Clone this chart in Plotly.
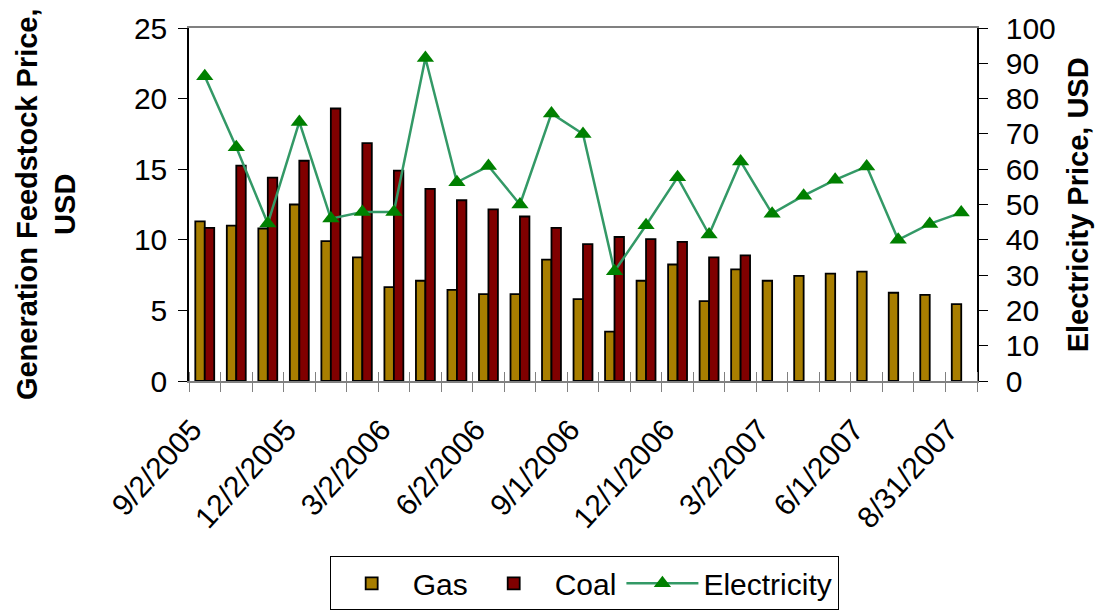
import plotly.graph_objects as go

# Monthly feedstock and power prices, Sep 2005 - Aug 2007
gas = [11.3, 11.0, 10.8, 12.5, 9.9, 8.75, 6.65, 7.1, 6.45, 6.15, 6.15, 8.6, 5.8,
       3.5, 7.1, 8.25, 5.65, 7.9, 7.1, 7.45, 7.6, 7.75, 6.25, 6.1, 5.45]
coal = [10.85, 15.25, 14.4, 15.6, 19.3, 16.85, 14.9, 13.6, 12.8, 12.15, 11.65, 10.85, 9.7,
        10.2, 10.05, 9.85, 8.75, 8.9, None, None, None, None, None, None, None]
electricity = [86.3, 66.2, 44.6, 73.4, 46.0, 47.9, 47.9, 91.5, 56.3, 60.9, 50.0, 75.8, 70.0,
               31.1, 44.1, 57.7, 41.5, 62.2, 47.4, 52.5, 57.0, 60.8, 40.0, 44.5, 47.7]
tick_labels = ["9/2/2005", "12/2/2005", "3/2/2006", "6/2/2006", "9/1/2006",
               "12/1/2006", "3/2/2007", "6/1/2007", "8/31/2007"]
label_step = 3

n = len(gas)
x = list(range(n))
# rotated date labels sit slightly left of their category so the text ends under it
tick_pos = [i - 0.4 for i in range(0, n, label_step)]
boundaries = [i - 0.5 for i in range(n + 1)]
xrange = [-0.5, n - 0.5]

FONT = "Liberation Sans, Arial, sans-serif"
FS = 30

fig = go.Figure()
fig.add_trace(go.Bar(x=x, y=gas, name="Gas",
                     marker=dict(color="#A87E00", line=dict(color="black", width=1.8))))
fig.add_trace(go.Bar(x=x, y=coal, name="Coal",
                     marker=dict(color="#800000", line=dict(color="black", width=1.8))))
fig.add_trace(go.Scatter(x=x, y=electricity, name="Electricity", xaxis="x2", yaxis="y2",
                         mode="lines+markers",
                         line=dict(color="#339966", width=2.5),
                         marker=dict(symbol="triangle-up", size=15, color="#008000")))

tickfont = dict(family=FONT, size=FS, color="black")
common = dict(showgrid=False, zeroline=False, automargin=False)

fig.update_layout(
    width=1096, height=610,
    margin=dict(l=189, r=119, t=28, b=229),
    paper_bgcolor="white", plot_bgcolor="white",
    font=dict(family=FONT, size=FS, color="black"),
    barmode="group", bargap=0.4, bargroupgap=0,
    showlegend=True,
    legend=dict(orientation="h", xref="container", yref="container",
                x=0.533, xanchor="center", y=0.088, yanchor="top",
                bordercolor="black", borderwidth=1, font=dict(size=FS),
                itemwidth=72, traceorder="normal"),
    xaxis=dict(range=xrange, tickmode="array", tickvals=boundaries,
               showticklabels=False, ticks="outside", ticklen=9, tickcolor="#808080",
               showline=True, linecolor="#808080", linewidth=2, mirror=True, **common),
    xaxis2=dict(overlaying="x", side="bottom", anchor="y", range=xrange,
                tickmode="array", tickvals=tick_pos, ticktext=tick_labels,
                tickangle=-48, tickfont=tickfont, ticks="", ticklabelstandoff=24,
                minor=dict(tickvals=boundaries, ticks="inside", ticklen=9, tickcolor="#808080"),
                showline=False, **common),
    yaxis=dict(range=[0, 25], tickmode="linear", tick0=0, dtick=5,
               ticks="outside", ticklen=9, tickcolor="black", tickfont=tickfont,
               ticklabelstandoff=5,
               showline=True, linecolor="black", linewidth=1.5, **common),
    yaxis2=dict(range=[0, 100], overlaying="y", side="right", anchor="x",
                tickmode="linear", tick0=0, dtick=10,
                ticks="outside", ticklen=9, tickcolor="black", tickfont=tickfont,
                ticklabelstandoff=12,
                showline=True, linecolor="black", linewidth=1.5, **common),
    yaxis3=dict(range=[0, 25], overlaying="y", side="left", anchor="x",
                tickmode="linear", tick0=0, dtick=5, ticks="inside", ticklen=9,
                tickcolor="black", showticklabels=False, showline=False, **common),
    yaxis4=dict(range=[0, 100], overlaying="y", side="right", anchor="x",
                tickmode="linear", tick0=0, dtick=10, ticks="inside", ticklen=9,
                tickcolor="black", showticklabels=False, showline=False, **common),
)

# Axis titles
fig.add_annotation(text="<b>Generation Feedstock Price,<br>USD</b>", xref="paper", yref="paper",
                   x=-0.182, y=0.5, xanchor="center", yanchor="middle", textangle=-90,
                   showarrow=False, font=dict(family=FONT, size=29, color="black"))
fig.add_annotation(text="<b>Electricity Price, USD</b>", xref="paper", yref="paper",
                   x=1.128, y=0.5, xanchor="center", yanchor="middle", textangle=-90,
                   showarrow=False, font=dict(family=FONT, size=29, color="black"))

fig.write_html("out.html")
